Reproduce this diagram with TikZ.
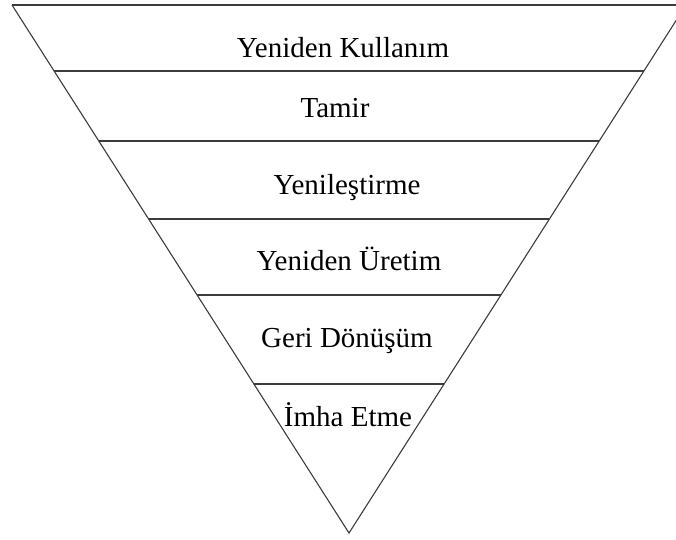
\documentclass[tikz,border=0pt]{standalone}
\usepackage{fontspec}
\setmainfont{Liberation Serif}
\usetikzlibrary{calc}
\definecolor{edgegray}{RGB}{60,60,60}

\begin{document}
\begin{tikzpicture}[x=1pt,y=-1pt,
  edge/.style={draw=edgegray, line width=1.1pt},
  level/.style={draw=edgegray, line width=1.6pt},
  lbl/.style={anchor=base, font=\fontsize{29}{32}\selectfont, inner sep=0pt}
]
\useasboundingbox (0,0) rectangle (676,539);
\clip (0,0) rectangle (676,539);
\coordinate (tl) at (12,5);
\coordinate (tr) at (686,5);
\coordinate (apex) at (349,533);

% outer triangle
\draw[edge] (tl) -- (apex) -- (tr);
\draw[level] (tl) -- (tr);

% dividing lines
\foreach \t [count=\i] in {0.125,0.2576,0.4053,0.5492,0.7178}{
  \draw[level] ($(tl)!\t!(apex)$) coordinate (l\i) -- ($(tr)!\t!(apex)$) coordinate (r\i);
}

\node[lbl] (reuse) at (343,57) {Yeniden Kullanım};
\node[lbl] (repair) at (335,117) {Tamir};
\node[lbl] (refurb) at (347,194) {Yenileştirme};
\node[lbl] (reman) at (349,270) {Yeniden Üretim};
\node[lbl] (recycle) at (347,347) {Geri Dönüşüm};
\node[lbl] (dispose) at (348,426) {İmha Etme};
\end{tikzpicture}
\end{document}
